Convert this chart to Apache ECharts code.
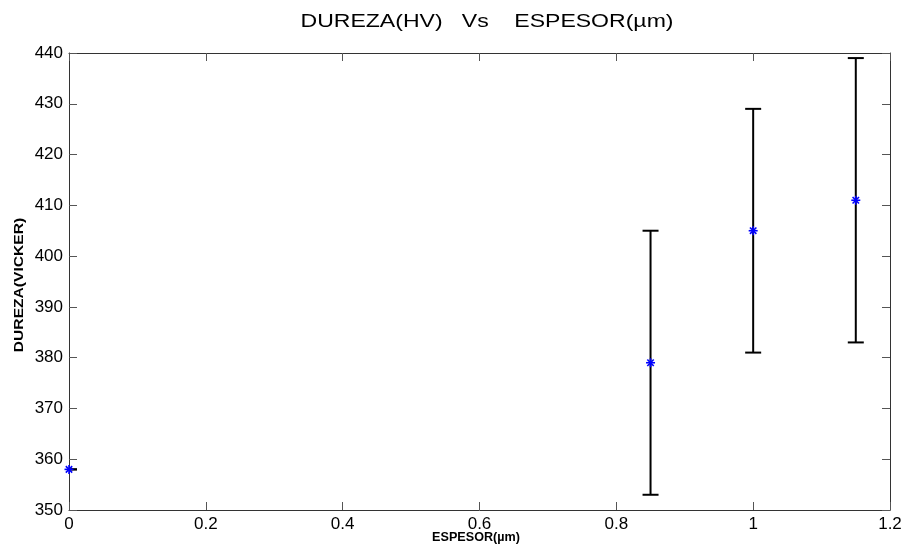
<!DOCTYPE html>
<html>
<head>
<meta charset="utf-8">
<script src="https://cdn.jsdelivr.net/npm/echarts@6/dist/echarts.min.js"></script>
<style>
  html, body { margin: 0; padding: 0; background: #fff; }
  #chart { width: 905px; height: 545px; }
</style>
</head>
<body>
<div id="chart"></div>
<script>
// Thickness (µm) and Vickers hardness with its spread
const espesor = [0, 0.85, 1.0, 1.15];
const dureza = [358, 379, 405, 411];
const desviacion = [0, 26, 24, 28];

const xTicks = { min: 0, max: 1.2, interval: 0.2 };
const yTicks = { min: 350, max: 440, interval: 10 };

const points = espesor.map((x, i) => [x, dureza[i], desviacion[i]]);

const FONT = '"Liberation Sans", Arial, Helvetica, sans-serif';
const AXIS_COLOR = '#333';

function axisBase(extra) {
  return Object.assign({
    type: 'value',
    splitLine: { show: false },
    axisLine: { show: true, onZero: false, lineStyle: { color: AXIS_COLOR, width: 1 } },
    axisTick: { show: true, inside: true, length: 8, lineStyle: { color: '#555', width: 1 } },
    axisLabel: { show: false }
  }, extra);
}

const chart = echarts.init(document.getElementById('chart'), null, { renderer: 'canvas' });

chart.setOption({
  animation: false,
  backgroundColor: '#fff',
  grid: { left: 69, right: 15, top: 53, bottom: 35, containLabel: false },
  xAxis: [
    axisBase({
      min: xTicks.min, max: xTicks.max, interval: xTicks.interval, position: 'bottom',
      axisLabel: { show: true, color: '#000', fontSize: 17, fontFamily: FONT, margin: 6 }
    }),
    axisBase({ min: xTicks.min, max: xTicks.max, interval: xTicks.interval, position: 'top' })
  ],
  yAxis: [
    axisBase({
      min: yTicks.min, max: yTicks.max, interval: yTicks.interval, position: 'left',
      axisLabel: { show: true, color: '#000', fontSize: 17, fontFamily: FONT, margin: 6 }
    }),
    axisBase({ min: yTicks.min, max: yTicks.max, interval: yTicks.interval, position: 'right' })
  ],
  graphic: [
    {
      type: 'text', x: 487, y: 22, scaleX: 1.28,
      style: {
        text: 'DUREZA(HV)   Vs    ESPESOR(µm)',
        font: '18px ' + FONT, fill: '#000', align: 'center', verticalAlign: 'middle'
      }
    },
    {
      type: 'text', x: 19, y: 285, rotation: Math.PI / 2, scaleX: 1.2,
      style: {
        text: 'DUREZA(VICKER)',
        font: 'bold 13px ' + FONT, fill: '#000', align: 'center', verticalAlign: 'middle'
      }
    },
    {
      type: 'text', x: 476, y: 538, scaleX: 1.05,
      style: {
        text: 'ESPESOR(µm)',
        font: 'bold 12px ' + FONT, fill: '#000', align: 'center', verticalAlign: 'middle'
      }
    }
  ],
  series: [
    {
      // error bars: vertical stem with horizontal caps, clipped to the plot area
      type: 'custom',
      clip: true,
      data: points,
      encode: { x: 0, y: 1 },
      renderItem: function (params, api) {
        const x = api.value(0), y = api.value(1), e = api.value(2);
        const lo = api.coord([x, y - e]);
        const hi = api.coord([x, y + e]);
        const half = 8;
        const style = { stroke: '#000', lineWidth: 2 };
        return {
          type: 'group',
          children: [
            { type: 'line', shape: { x1: lo[0], y1: lo[1], x2: hi[0], y2: hi[1] }, style: style },
            { type: 'line', shape: { x1: hi[0] - half, y1: hi[1], x2: hi[0] + half, y2: hi[1] }, style: style },
            { type: 'line', shape: { x1: lo[0] - half, y1: lo[1], x2: lo[0] + half, y2: lo[1] }, style: style }
          ]
        };
      },
      z: 2
    },
    {
      // asterisk markers at the mean values
      type: 'custom',
      clip: false,
      data: points,
      encode: { x: 0, y: 1 },
      renderItem: function (params, api) {
        const c = api.coord([api.value(0), api.value(1)]);
        const r = 4.5, d = 3.2;
        const style = { stroke: '#0000ff', lineWidth: 1.6 };
        return {
          type: 'group',
          children: [
            { type: 'line', shape: { x1: c[0] - r, y1: c[1], x2: c[0] + r, y2: c[1] }, style: style },
            { type: 'line', shape: { x1: c[0], y1: c[1] - r, x2: c[0], y2: c[1] + r }, style: style },
            { type: 'line', shape: { x1: c[0] - d, y1: c[1] - d, x2: c[0] + d, y2: c[1] + d }, style: style },
            { type: 'line', shape: { x1: c[0] - d, y1: c[1] + d, x2: c[0] + d, y2: c[1] - d }, style: style }
          ]
        };
      },
      z: 3
    }
  ]
});
</script>
</body>
</html>
